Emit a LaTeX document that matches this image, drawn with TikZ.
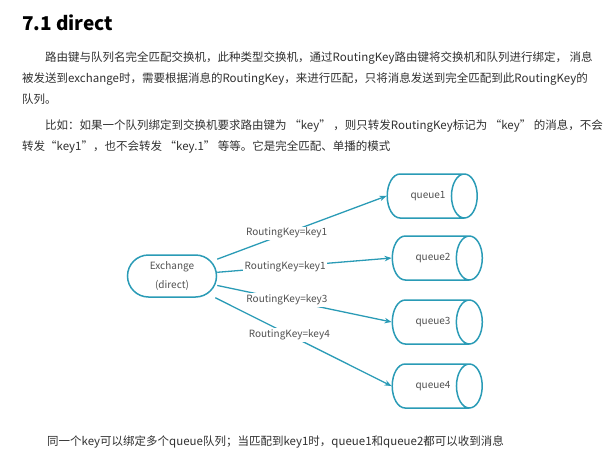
\documentclass[tikz,border=0pt]{standalone}
\usepackage{fontspec}
\setmainfont{Noto Sans CJK SC}
\usetikzlibrary{shapes.geometric,arrows.meta}
\definecolor{linkblue}{HTML}{2A9BB6}
\definecolor{bodytext}{HTML}{303030}
\definecolor{labelgray}{HTML}{505050}
\tikzset{
  txtline/.style={anchor=base west, inner sep=0pt, text=bodytext, font=\fontsize{11.5}{14}\selectfont},
  queue/.style={shape=cylinder, draw=linkblue, line width=1.5pt, aspect=1.6,
    minimum height=90pt, minimum width=44pt, font=\fontsize{10}{11}\selectfont},
  qname/.style={text=labelgray, font=\fontsize{10}{11}\selectfont, xshift=6pt},
  exch/.style={draw=linkblue, line width=1.5pt, rounded corners=21pt, minimum width=89pt,
    minimum height=42pt, align=center, text=labelgray, font=\fontsize{10}{19}\selectfont},
  key/.style={fill=white, inner sep=1.5pt, text=labelgray, font=\fontsize{10}{11}\selectfont},
  link/.style={draw=linkblue, line width=1.3pt, -{Stealth[length=7pt,width=5.5pt]}}
}
\begin{document}
\begin{tikzpicture}[x=1pt,y=-1pt]
\useasboundingbox (0,0) rectangle (616,469);
% heading and text
\node[anchor=base west, inner sep=0pt, font=\fontsize{19}{22}\selectfont\bfseries] (title) at (22,30) {7.1 direct};
\node[txtline] (p1a) at (45,61.5) {路由键与队列名完全匹配交换机，此种类型交换机，通过RoutingKey路由键将交换机和队列进行绑定， 消息};
\node[txtline] (p1b) at (22,82.5) {被发送到exchange时，需要根据消息的RoutingKey，来进行匹配，只将消息发送到完全匹配到此RoutingKey的};
\node[txtline] (p1c) at (22,103.5) {队列。};
\node[txtline] (p2a) at (45,129.5) {比如：如果一个队列绑定到交换机要求路由键为 “key” ，则只转发RoutingKey标记为 “key” 的消息，不会};
\node[txtline] (p2b) at (22,150.5) {转发“key1”，也不会转发 “key.1” 等等。它是完全匹配、单播的模式};
% exchange and queues
\node[exch] (ex) at (172,276) {Exchange\\(direct)};
\node[queue, label={[qname]center:queue1}] (q1) at (422,196) {\vphantom{queue1}};
\node[queue, label={[qname]center:queue2}] (q2) at (427,258) {\vphantom{queue2}};
\node[queue, label={[qname]center:queue3}] (q3) at (427,322) {\vphantom{queue3}};
\node[queue, label={[qname]center:queue4}] (q4) at (427,386) {\vphantom{queue4}};
% bindings
\draw[link] (ex) -- node[key,pos=0.41] (k1) {RoutingKey=key1} (q1.west);
\draw[link] (ex) -- node[key,pos=0.39] (k2) {RoutingKey=key1} (q2.west);
\draw[link] (ex) -- node[key,pos=0.40] (k3) {RoutingKey=key3} (q3.west);
\draw[link] (ex) -- node[key,pos=0.42] (k4) {RoutingKey=key4} (q4.west);
\node[txtline] (note) at (47,445.5) {同一个key可以绑定多个queue队列；当匹配到key1时，queue1和queue2都可以收到消息};
\end{tikzpicture}
\end{document}
